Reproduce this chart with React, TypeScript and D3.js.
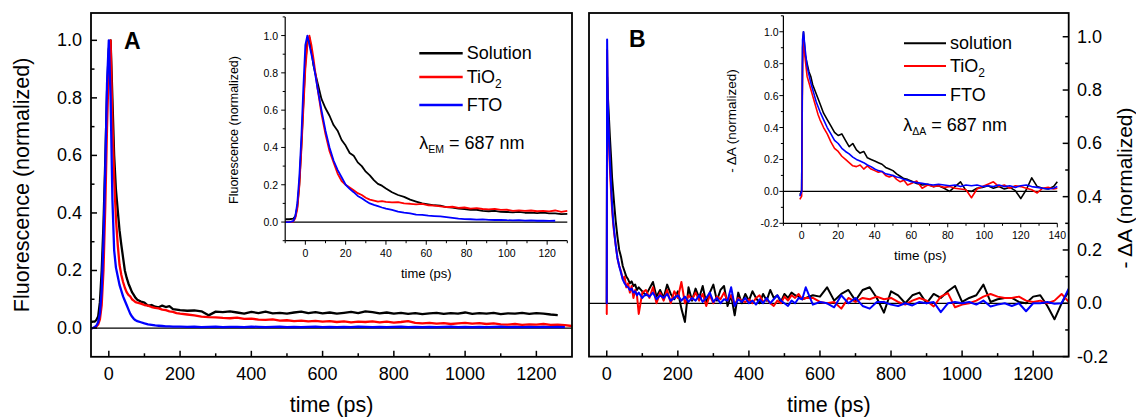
import React from "react";
import * as d3 from "d3";

// ---------------- Panel A (main): fluorescence decays ----------------
const timeA: number[] = [
  -50, -45, -40, -35, -30, -25, -20, -15, -10, -5, 0, 5, 10, 15, 20, 25, 30, 35, 40, 45,
  50, 55, 60, 65, 70, 75, 80, 90, 100, 110, 120, 130, 140, 150, 160, 170, 180, 190,
  200, 220, 240, 260, 280, 300, 320, 340, 360, 380, 400, 420, 440, 460, 480, 500, 520,
  540, 560, 580, 600, 620, 640, 660, 680, 700, 720, 740, 760, 780, 800, 820, 840, 860,
  880, 900, 920, 940, 960, 980, 1000, 1020, 1040, 1060, 1080, 1100, 1120, 1140, 1160,
  1180, 1200, 1220, 1240, 1260, 1280, 1300,
];
const fluoSolution: (number | null)[] = [
  0.02, 0.022, 0.022, 0.028, 0.04, 0.09, 0.2, 0.36, 0.58, 0.82, 0.97, 1.0, 0.8, 0.6, 0.48, 0.41,
  0.34, 0.29, 0.245, 0.2, 0.175, 0.155, 0.14, 0.125, 0.115, 0.105, 0.098, 0.092, 0.088, 0.078,
  0.08, 0.074, 0.072, 0.078, 0.073, 0.076, 0.066, 0.064,
  0.062, 0.06, 0.061, 0.058, 0.044, 0.057, 0.055, 0.058, 0.054, 0.05, 0.056, 0.052, 0.057,
  0.051, 0.053, 0.05, 0.054, 0.057, 0.052, 0.055, 0.051, 0.054, 0.05, 0.053, 0.056, 0.052,
  0.058, 0.055, 0.051, 0.054, 0.05, 0.053, 0.049, 0.052, 0.048, 0.051, 0.053, 0.049, 0.052,
  0.05, 0.054, 0.049, 0.052, 0.05, 0.053, 0.048, 0.051, 0.05, 0.053, 0.049, 0.052, 0.05,
  0.047, 0.045, null, null,
];
const fluoTiO2: (number | null)[] = [
  0, 0, 0.002, 0.005, 0.012, 0.03, 0.08, 0.2, 0.42, 0.7, 0.92, 1.0, 0.72, 0.52, 0.38, 0.29,
  0.22, 0.185, 0.16, 0.14, 0.125, 0.115, 0.11, 0.1, 0.095, 0.09, 0.088, 0.085, 0.08, 0.078,
  0.073, 0.07, 0.068, 0.064, 0.062, 0.058, 0.056, 0.052,
  0.05, 0.047, 0.044, 0.04, 0.038, 0.037, 0.035, 0.034, 0.036, 0.032, 0.033, 0.029, 0.028,
  0.03, 0.026, 0.027, 0.024, 0.026, 0.023, 0.025, 0.022, 0.024, 0.021, 0.023, 0.02, 0.022,
  0.021, 0.023, 0.02, 0.022, 0.019, 0.021, 0.024, 0.018, 0.016, 0.018, 0.015, 0.017, 0.014,
  0.016, 0.018, 0.015, 0.017, 0.014, 0.016, 0.013, 0.012, 0.014, 0.011, 0.013, 0.012, 0.014,
  0.011, 0.012, 0.01, 0.007,
];
const fluoFTO: (number | null)[] = [
  0, 0, 0.003, 0.008, 0.02, 0.05, 0.13, 0.3, 0.55, 0.85, 1.0, 0.8, 0.45, 0.27, 0.21, 0.18,
  0.15, 0.13, 0.11, 0.095, 0.08, 0.065, 0.05, 0.04, 0.032, 0.027, 0.024, 0.02, 0.016, 0.013,
  0.011, 0.009, 0.008, 0.007, 0.006, 0.006, 0.005, 0.005,
  0.005, 0.004, 0.005, 0.003, 0.004, 0.005, 0.003, 0.004, 0.004, 0.003,
  0.005, 0.004, 0.003, 0.004, 0.005, 0.003, 0.004, 0.003, 0.004, 0.005,
  0.003, 0.004, 0.003, 0.004, 0.003, 0.005, 0.004, 0.003, 0.004, 0.003,
  0.004, 0.005, 0.003, 0.004, 0.003, 0.004, 0.003, 0.004, 0.005, 0.003,
  0.004, 0.003, 0.004, 0.003, 0.004, 0.005, 0.003, 0.004, 0.003, 0.004,
  0.003, 0.004, 0.003, 0.004, 0.003, null,
];

// ---------------- Panel A (inset): first 130 ps ----------------
const timeInsetA: number[] = [
  -10, -8, -6, -5, -4, -3, -2, -1, 0, 1, 2, 3, 4, 6, 8, 10, 12, 14, 16, 18, 20, 22, 24, 26,
  28, 30, 32, 34, 36, 38, 40, 43, 46, 49, 52, 55, 58, 61, 64, 67, 70, 73, 76, 79, 82, 85,
  88, 91, 94, 97, 100, 103, 106, 109, 112, 115, 118, 121, 124, 127, 130,
];
const insetSolution: (number | null)[] = [
  0.015, 0.015, 0.018, 0.03, 0.08, 0.2, 0.4, 0.63, 0.85, 0.97, 0.99, 0.92, 0.84,
  0.75, 0.66, 0.61, 0.57, 0.52, 0.49, 0.44, 0.41, 0.37, 0.355, 0.32, 0.3, 0.27, 0.25, 0.225,
  0.205, 0.195, 0.18,
  0.16, 0.145, 0.135, 0.12, 0.11, 0.1, 0.095, 0.09, 0.088, 0.08, 0.077, 0.072, 0.07, 0.065,
  0.066, 0.06, 0.058, 0.06, 0.055, 0.054, 0.052, 0.055, 0.05, 0.05, 0.048, 0.05, 0.046,
  0.047, 0.043, 0.044,
];
const insetTiO2: (number | null)[] = [
  0, 0, 0.003, 0.02, 0.07, 0.19, 0.38, 0.6, 0.82, 0.95, 1.0, 0.95, 0.88,
  0.72, 0.58, 0.47, 0.38, 0.32, 0.26, 0.22, 0.2, 0.185, 0.17, 0.155, 0.145, 0.13, 0.12, 0.115,
  0.11, 0.112, 0.108,
  0.105, 0.107, 0.1, 0.098, 0.095, 0.097, 0.09, 0.088, 0.084, 0.08, 0.082, 0.076, 0.078,
  0.072, 0.075, 0.07, 0.068, 0.071, 0.065, 0.066, 0.06, 0.063, 0.06, 0.062, 0.058, 0.06,
  0.057, 0.062, 0.055, 0.06,
];
const insetFTO: (number | null)[] = [
  0, 0, 0.005, 0.03, 0.1, 0.24, 0.45, 0.72, 0.95, 1.0, 0.95, 0.9, 0.85,
  0.72, 0.6, 0.49, 0.4, 0.33, 0.28, 0.24, 0.2, 0.178, 0.16, 0.14, 0.128, 0.113, 0.1, 0.092,
  0.085, 0.078, 0.072,
  0.065, 0.056, 0.05, 0.046, 0.04, 0.038, 0.034, 0.032, 0.03, 0.026, 0.022, 0.018, 0.016,
  0.015, 0.013, 0.014, 0.012, 0.011, 0.012, 0.01, 0.009, 0.01, 0.008, 0.009, 0.007, 0.008,
  0.006, 0.007, null, null,
];

// ---------------- Panel B (main): transient absorption ----------------
const timeB: number[] = [
  -2, 0, 1, 3, 6, 9, 12, 15, 18, 21, 25, 30, 35, 40, 45, 50, 55, 60, 65, 70, 75, 80, 85, 90,
  100, 110, 120, 130, 140, 150, 160, 170, 180, 190, 200, 210, 220, 230, 240, 250, 260, 270,
  280, 290, 300, 310, 320, 330, 340, 350, 360, 370, 380, 390, 400, 410, 420, 430, 440, 450,
  460, 470, 480, 490, 500, 510, 520, 530, 540, 550, 560,
  580, 600, 620, 640, 660, 680, 700, 720, 740, 760, 780, 800, 820, 840, 860, 880, 900, 920,
  940, 960, 980, 1000, 1020, 1040, 1060, 1080, 1100, 1120, 1140, 1160, 1180, 1200, 1220,
  1240, 1260, 1280, 1300,
];
const taSolution: number[] = [
  0, 0, 0.85, 0.78, 0.7, 0.62, 0.55, 0.47, 0.42, 0.37, 0.31, 0.25, 0.2, 0.175, 0.14, 0.12,
  0.1, 0.09, 0.075, 0.082, 0.065, 0.07, 0.05, 0.06,
  0.045, 0.03, 0.055, 0.08, 0.025, 0.05, 0.02, 0.07, 0.035, 0.015, 0.045, -0.02, -0.07, 0.06,
  0.01, 0.055, 0.02, 0.065, 0, 0.04, 0.07, 0.01, 0.05, 0.065, -0.01, 0.03, -0.045, 0.04, 0,
  0.035, 0.01, 0.045, 0.02, 0, 0.035, 0.01, 0.05, 0.02, 0.03, 0.005, 0.035, 0.02, 0.04, 0.03,
  0.025, 0.015, 0.02,
  0.03, 0.025, 0.06, 0.01, 0.035, 0.05, 0.01, 0.05, 0.06, 0.02, -0.035, 0.045, 0.03, 0, 0.03,
  0.04, 0, 0.035, 0.02, 0.045, 0.065, 0.005, 0.02, 0.03, 0.07, 0.005, 0.015, 0.02, 0.02,
  0.005, 0, 0.025, 0.03, -0.01, -0.06, 0, 0.045,
];
const taTiO2: number[] = [
  -0.04, -0.04, 0.95, 0.7, 0.6, 0.5, 0.42, 0.35, 0.3, 0.26, 0.22, 0.17, 0.14, 0.12, 0.09, 0.1,
  0.06, 0.075, 0.04, 0.065, 0.02, 0.05, 0.03, -0.04,
  0.04, 0.05, 0.02, 0.06, 0, 0.04, 0.01, 0.05, 0, 0.045, 0.02, 0.08, 0, 0.03, 0.015, 0.04,
  0.01, 0.035, -0.01, 0.03, 0, 0.025, 0.015, 0.04, 0.01, 0.03, -0.005, 0.02, 0.01, 0.005,
  0.015, 0, 0.02, 0.03, 0.005, 0.015, 0, -0.01, 0.01, 0, 0.025, 0.01, 0.03, 0.02, 0.035,
  0.015, 0.02,
  0.02, 0.005, 0, 0.005, -0.02, 0.02, 0.005, 0.02, 0.015, 0.025, 0.015, 0.02, 0.005, -0.005,
  0.01, 0.02, 0.01, -0.012, 0.025, 0.038, -0.015, -0.005, 0, 0.01, 0.025, 0.035, 0.025, 0.02,
  0.02, 0.025, 0.01, 0.005, 0.01, 0, 0.01, 0.035, 0.005,
];
const taFTO: number[] = [
  0, 0, 0.99, 0.75, 0.63, 0.53, 0.45, 0.37, 0.31, 0.27, 0.22, 0.17, 0.14, 0.115, 0.09, 0.075,
  0.065, 0.06, 0.05, 0.055, 0.04, 0.045, 0.03, 0.04,
  0.02, 0.035, 0.025, 0.04, 0.015, 0.03, 0.02, 0.035, 0.01, 0.02, 0.03, 0.01, 0.025, 0.005,
  0.02, 0.01, 0.03, 0.005, 0.02, 0.04, 0.005, 0.02, 0, 0.015, 0.01, 0.06, -0.01, 0.015, 0.005,
  0.02, 0, 0.01, -0.005, 0.015, 0, 0.02, 0, 0.015, 0.03, 0.01, 0, -0.01, 0.01, 0, 0.02, 0.015,
  0.06,
  -0.005, 0.005, 0, -0.015, 0.03, 0, 0.02, -0.01, -0.02, 0.005, 0.005, -0.005, -0.01, 0,
  -0.008, 0.005, 0, 0.005, -0.033, 0, 0.005, 0, 0.005, -0.005, 0.01, -0.012, -0.005, 0, -0.01,
  0, -0.03, 0, 0, 0.005, -0.002, 0, 0.055,
];

// ---------------- Panel B (inset): first 140 ps ----------------
const timeInsetB: number[] = [
  -1, 0, 0.5, 1, 2, 3, 4, 5, 6, 7, 8, 9, 10, 12, 14, 16, 18, 20, 22, 24, 26, 28, 30, 32, 34,
  36, 38, 40, 42, 44, 46, 48, 50, 52, 54, 56, 58, 60, 63, 66, 69, 72, 75, 78, 81, 84, 87, 90,
  93, 96, 99, 102, 105, 108, 111, 114, 117, 120, 123, 126, 129, 132, 135, 138, 140,
];
const insetTaSolution: number[] = [
  -0.02, 0, 0.9, 1.0, 0.85, 0.8, 0.75, 0.72, 0.67, 0.64, 0.61, 0.58, 0.55,
  0.49, 0.45, 0.41, 0.37, 0.35, 0.36, 0.32, 0.28, 0.3, 0.26, 0.24, 0.25, 0.21, 0.2, 0.19, 0.18,
  0.17, 0.15, 0.14, 0.13, 0.11, 0.095, 0.08, 0.075, 0.065,
  0.05, 0.04, 0.045, 0.03, 0.035, 0.02, 0, 0.03, 0.06, 0.005, 0, 0.02, 0.025, 0.035, 0.02,
  0.03, 0.015, 0.025, 0.005, -0.045, 0.01, 0.085, 0.03, 0.02, 0.015, 0.03,
  0.06,
];
const insetTaTiO2: number[] = [
  -0.05, -0.03, 0.8, 0.95, 0.82, 0.72, 0.68, 0.64, 0.6, 0.56, 0.52, 0.48, 0.45,
  0.4, 0.36, 0.31, 0.27, 0.25, 0.22, 0.2, 0.18, 0.16, 0.155, 0.165, 0.14, 0.16, 0.14, 0.13,
  0.12, 0.125, 0.1, 0.09, 0.1, 0.075, 0.06, 0.07, 0.04, 0.05,
  0.065, 0.02, 0.04, 0.03, 0.035, 0.025, 0.03, 0.02, 0.015, 0.01, -0.04, 0.015, 0.03, 0.045,
  0.06, 0.03, 0.04, 0.02, 0.035, 0.03, 0.02, 0.01, -0.01, 0.02, 0.025, 0.015,
  0.02,
];
const insetTaFTO: number[] = [
  -0.03, 0, 0.95, 1.0, 0.88, 0.78, 0.73, 0.68, 0.64, 0.6, 0.56, 0.53, 0.5,
  0.45, 0.4, 0.36, 0.32, 0.3, 0.27, 0.25, 0.235, 0.215, 0.2, 0.19, 0.18, 0.165, 0.155, 0.14,
  0.13, 0.125, 0.11, 0.105, 0.1, 0.09, 0.085, 0.075, 0.07, 0.06,
  0.055, 0.05, 0.045, 0.04, 0.045, 0.04, 0.035, 0.04, 0.03, 0.04, 0.035, 0.04, 0.03, 0.035,
  0.03, 0.04, 0.03, 0.035, 0.025, 0.035, 0.04, 0.03, 0.025, 0.02, 0.015, 0.02,
  0.03,
];

// ---------------- Ticks ----------------
const mainXMajor = [0, 200, 400, 600, 800, 1000, 1200];
const mainXMinor = [100, 300, 500, 700, 900, 1100];
const aYMajor = [0, 0.2, 0.4, 0.6, 0.8, 1.0];
const aYMinor = [0.1, 0.3, 0.5, 0.7, 0.9];
const bYMajor = [-0.2, 0, 0.2, 0.4, 0.6, 0.8, 1.0];
const bYMinor = [-0.1, 0.1, 0.3, 0.5, 0.7, 0.9];
const insetAXMajor = [0, 20, 40, 60, 80, 100, 120];
const insetAXMinor = [-10, 10, 30, 50, 70, 90, 110, 130];
const insetAYMajor = [0, 0.2, 0.4, 0.6, 0.8, 1.0];
const insetAYMinor = [-0.1, 0.1, 0.3, 0.5, 0.7, 0.9, 1.1];
const insetBXMajor = [0, 20, 40, 60, 80, 100, 120, 140];
const insetBXMinor = [-10, 10, 30, 50, 70, 90, 110, 130];
const insetBYMajor = [-0.2, 0, 0.2, 0.4, 0.6, 0.8, 1.0];
const insetBYMinor = [-0.1, 0.1, 0.3, 0.5, 0.7, 0.9, 1.1];

const FONT = "'Liberation Sans', Arial, Helvetica, sans-serif";
const BLACK = "#000000";
const RED = "#ff0000";
const BLUE = "#0000ff";

type Scale = d3.ScaleLinear<number, number>;

function pathFor(xs: number[], ys: (number | null)[], x: Scale, y: Scale): string {
  const idx = d3.range(xs.length);
  return (
    d3
      .line<number>()
      .defined((i) => ys[i] !== null && ys[i] !== undefined)
      .x((i) => x(xs[i]))
      .y((i) => y(ys[i] as number))(idx) || ""
  );
}

const fmt1 = (v: number) => v.toFixed(1);

export default function App() {
  const xA = d3.scaleLinear().domain([-50, 1300]).range([91, 572]);
  const yA = d3.scaleLinear().domain([-0.1, 1.095]).range([356.8, 13]);
  const xB = d3.scaleLinear().domain([-50, 1300]).range([589, 1068.7]);
  const yB = d3.scaleLinear().domain([-0.2, 1.089]).range([356.6, 13]);
  const xIA = d3.scaleLinear().domain([-10, 130]).range([285.2, 567.3]);
  const yIA = d3.scaleLinear().domain([-0.1, 1.1]).range([240.7, 16.9]);
  const xIB = d3.scaleLinear().domain([-10, 140]).range([783.4, 1057.3]);
  const yIB = d3.scaleLinear().domain([-0.2, 1.1]).range([223.3, 15.8]);

  const [ax0, ax1] = xA.range();
  const [ay1, ay0] = yA.range();
  const [bx0, bx1] = xB.range();
  const [by1, by0] = yB.range();
  const [iax0, iax1] = xIA.range();
  const [iay1, iay0] = yIA.range();
  const [ibx0, ibx1] = xIB.range();
  const [iby1, iby0] = yIB.range();

  const frameW = 1.8;
  const tickCol = BLACK;

  return (
    <svg
      width={1136}
      height={418}
      viewBox="0 0 1136 418"
      style={{ position: "absolute", left: 0, top: 0, background: "#ffffff" }}
      fontFamily={FONT}
    >
      <defs>
        <clipPath id="clipA">
          <rect x={ax0} y={ay0} width={ax1 - ax0} height={ay1 - ay0} />
        </clipPath>
        <clipPath id="clipB">
          <rect x={bx0} y={by0} width={bx1 - bx0} height={by1 - by0} />
        </clipPath>
        <clipPath id="clipIA">
          <rect x={iax0} y={iay0} width={iax1 - iax0 + 1} height={iay1 - iay0} />
        </clipPath>
        <clipPath id="clipIB">
          <rect x={ibx0} y={iby0} width={ibx1 - ibx0 + 1} height={iby1 - iby0} />
        </clipPath>
      </defs>
      <rect x={0} y={0} width={1136} height={418} fill="#ffffff" />

      {/* ================= PANEL A ================= */}
      <line x1={ax0} x2={ax1} y1={yA(0)} y2={yA(0)} stroke={BLACK} strokeWidth={1.3} />
      <g clipPath="url(#clipA)" fill="none" strokeLinejoin="round">
        <path d={pathFor(timeA, fluoSolution, xA, yA)} stroke={BLACK} strokeWidth={2.3} />
        <path d={pathFor(timeA, fluoTiO2, xA, yA)} stroke={RED} strokeWidth={2.3} />
        <path d={pathFor(timeA, fluoFTO, xA, yA)} stroke={BLUE} strokeWidth={2.3} />
      </g>
      <rect x={ax0} y={ay0} width={ax1 - ax0} height={ay1 - ay0} fill="none" stroke={BLACK} strokeWidth={frameW} />
      {aYMajor.map((v) => (
        <g key={"aym" + v}>
          <line x1={ax0} x2={ax0 + 6} y1={yA(v)} y2={yA(v)} stroke={tickCol} strokeWidth={1.5} />
          <text x={82} y={yA(v)} fontSize={18} textAnchor="end" dominantBaseline="central">
            {fmt1(v)}
          </text>
        </g>
      ))}
      {aYMinor.map((v) => (
        <line key={"ayn" + v} x1={ax0} x2={ax0 + 3.5} y1={yA(v)} y2={yA(v)} stroke={tickCol} strokeWidth={1.5} />
      ))}
      {mainXMajor.map((v) => (
        <g key={"axm" + v}>
          <line x1={xA(v)} x2={xA(v)} y1={ay1} y2={ay1 - 6} stroke={tickCol} strokeWidth={1.5} />
          <text x={xA(v)} y={374} fontSize={18} textAnchor="middle" dominantBaseline="central">
            {v}
          </text>
        </g>
      ))}
      {mainXMinor.map((v) => (
        <line key={"axn" + v} x1={xA(v)} x2={xA(v)} y1={ay1} y2={ay1 - 3.5} stroke={tickCol} strokeWidth={1.5} />
      ))}
      <text
        transform={`translate(21.5,${(ay0 + ay1) / 2}) rotate(-90)`}
        fontSize={21.5}
        textAnchor="middle"
        dominantBaseline="central"
      >
        Fluorescence (normalized)
      </text>
      <text x={(ax0 + ax1) / 2} y={405} fontSize={21.5} textAnchor="middle" dominantBaseline="central">
        time (ps)
      </text>
      <text x={124} y={48.5} fontSize={23} fontWeight="bold">
        A
      </text>

      {/* ---- Inset A ---- */}
      <line x1={iax0} x2={iax1} y1={yIA(0)} y2={yIA(0)} stroke={BLACK} strokeWidth={1.2} />
      <g clipPath="url(#clipIA)" fill="none" strokeLinejoin="round">
        <path d={pathFor(timeInsetA, insetSolution, xIA, yIA)} stroke={BLACK} strokeWidth={1.8} />
        <path d={pathFor(timeInsetA, insetTiO2, xIA, yIA)} stroke={RED} strokeWidth={1.8} />
        <path d={pathFor(timeInsetA, insetFTO, xIA, yIA)} stroke={BLUE} strokeWidth={1.8} />
      </g>
      <line x1={iax0} x2={iax0} y1={iay0} y2={iay1} stroke={BLACK} strokeWidth={1.2} />
      <line x1={iax0} x2={iax1} y1={iay1} y2={iay1} stroke={BLACK} strokeWidth={1.2} />
      {insetAYMajor.map((v) => (
        <g key={"iaym" + v}>
          <line x1={iax0 - 4} x2={iax0} y1={yIA(v)} y2={yIA(v)} stroke={tickCol} strokeWidth={1} />
          <text x={278} y={yIA(v)} fontSize={10.5} textAnchor="end" dominantBaseline="central">
            {fmt1(v)}
          </text>
        </g>
      ))}
      {insetAYMinor.map((v) => (
        <line key={"iayn" + v} x1={iax0 - 2.5} x2={iax0} y1={yIA(v)} y2={yIA(v)} stroke={tickCol} strokeWidth={1} />
      ))}
      {insetAXMajor.map((v) => (
        <g key={"iaxm" + v}>
          <line x1={xIA(v)} x2={xIA(v)} y1={iay1} y2={iay1 + 4} stroke={tickCol} strokeWidth={1} />
          <text x={xIA(v)} y={252.7} fontSize={10.5} textAnchor="middle" dominantBaseline="central">
            {v}
          </text>
        </g>
      ))}
      {insetAXMinor.map((v) => (
        <line key={"iaxn" + v} x1={xIA(v)} x2={xIA(v)} y1={iay1} y2={iay1 + 2.5} stroke={tickCol} strokeWidth={1} />
      ))}
      <text
        transform={`translate(233.5,130) rotate(-90)`}
        fontSize={12.5}
        textAnchor="middle"
        dominantBaseline="central"
      >
        Fluorescence (normalized)
      </text>
      <text x={(iax0 + iax1) / 2} y={273} fontSize={13} textAnchor="middle" dominantBaseline="central">
        time (ps)
      </text>

      {/* Legend A */}
      <line x1={419.3} x2={462.7} y1={53.3} y2={53.3} stroke={BLACK} strokeWidth={2.6} />
      <line x1={419.3} x2={462.7} y1={77} y2={77} stroke={RED} strokeWidth={2.6} />
      <line x1={419.3} x2={462.7} y1={105} y2={105} stroke={BLUE} strokeWidth={2.6} />
      <text x={466.7} y={53.3} fontSize={18} dominantBaseline="central">
        Solution
      </text>
      <text x={466.7} y={77} fontSize={18} dominantBaseline="central">
        TiO
        <tspan fontSize={12} dy={7}>
          2
        </tspan>
      </text>
      <text x={466.7} y={105} fontSize={18} dominantBaseline="central">
        FTO
      </text>
      <text x={419.3} y={143.3} fontSize={18} dominantBaseline="central">
        λ
        <tspan fontSize={10.5} dy={6}>
          EM
        </tspan>
        <tspan dy={-6}> = 687 nm</tspan>
      </text>

      {/* ================= PANEL B ================= */}
      <line x1={bx0} x2={bx1} y1={yB(0)} y2={yB(0)} stroke={BLACK} strokeWidth={1.3} />
      <g clipPath="url(#clipB)" fill="none" strokeLinejoin="round">
        <path d={pathFor(timeB, taSolution, xB, yB)} stroke={BLACK} strokeWidth={2} />
        <path d={pathFor(timeB, taTiO2, xB, yB)} stroke={RED} strokeWidth={2} />
        <path d={pathFor(timeB, taFTO, xB, yB)} stroke={BLUE} strokeWidth={2} />
      </g>
      <rect x={bx0} y={by0} width={bx1 - bx0} height={by1 - by0} fill="none" stroke={BLACK} strokeWidth={frameW} />
      {bYMajor.map((v) => (
        <g key={"bym" + v}>
          <line x1={bx1} x2={bx1 - 6} y1={yB(v)} y2={yB(v)} stroke={tickCol} strokeWidth={1.5} />
          <text x={1077} y={yB(v)} fontSize={18} textAnchor="start" dominantBaseline="central">
            {fmt1(v)}
          </text>
        </g>
      ))}
      {bYMinor.map((v) => (
        <line key={"byn" + v} x1={bx1} x2={bx1 - 3.5} y1={yB(v)} y2={yB(v)} stroke={tickCol} strokeWidth={1.5} />
      ))}
      {mainXMajor.map((v) => (
        <g key={"bxm" + v}>
          <line x1={xB(v)} x2={xB(v)} y1={by1} y2={by1 - 6} stroke={tickCol} strokeWidth={1.5} />
          <text x={xB(v)} y={374} fontSize={18} textAnchor="middle" dominantBaseline="central">
            {v}
          </text>
        </g>
      ))}
      {mainXMinor.map((v) => (
        <line key={"bxn" + v} x1={xB(v)} x2={xB(v)} y1={by1} y2={by1 - 3.5} stroke={tickCol} strokeWidth={1.5} />
      ))}
      <text
        transform={`translate(1124,188) rotate(-90)`}
        fontSize={21}
        textAnchor="middle"
        dominantBaseline="central"
      >
        - ΔA (normalized)
      </text>
      <text x={(bx0 + bx1) / 2} y={405} fontSize={21.5} textAnchor="middle" dominantBaseline="central">
        time (ps)
      </text>
      <text x={629} y={47} fontSize={23} fontWeight="bold">
        B
      </text>

      {/* ---- Inset B ---- */}
      <line x1={ibx0} x2={ibx1} y1={yIB(0)} y2={yIB(0)} stroke={BLACK} strokeWidth={1.2} />
      <g clipPath="url(#clipIB)" fill="none" strokeLinejoin="round">
        <path d={pathFor(timeInsetB, insetTaSolution, xIB, yIB)} stroke={BLACK} strokeWidth={1.6} />
        <path d={pathFor(timeInsetB, insetTaTiO2, xIB, yIB)} stroke={RED} strokeWidth={1.6} />
        <path d={pathFor(timeInsetB, insetTaFTO, xIB, yIB)} stroke={BLUE} strokeWidth={1.6} />
      </g>
      <line x1={ibx0} x2={ibx0} y1={iby0} y2={iby1} stroke={BLACK} strokeWidth={1.2} />
      <line x1={ibx0} x2={ibx1} y1={iby1} y2={iby1} stroke={BLACK} strokeWidth={1.2} />
      {insetBYMajor.map((v) => (
        <g key={"ibym" + v}>
          <line x1={ibx0 - 4} x2={ibx0} y1={yIB(v)} y2={yIB(v)} stroke={tickCol} strokeWidth={1} />
          <text x={778.5} y={yIB(v)} fontSize={10.5} textAnchor="end" dominantBaseline="central">
            {fmt1(v)}
          </text>
        </g>
      ))}
      {insetBYMinor.map((v) => (
        <line key={"ibyn" + v} x1={ibx0 - 2.5} x2={ibx0} y1={yIB(v)} y2={yIB(v)} stroke={tickCol} strokeWidth={1} />
      ))}
      {insetBXMajor.map((v) => (
        <g key={"ibxm" + v}>
          <line x1={xIB(v)} x2={xIB(v)} y1={iby1} y2={iby1 + 4} stroke={tickCol} strokeWidth={1} />
          <text x={xIB(v)} y={235} fontSize={10.5} textAnchor="middle" dominantBaseline="central">
            {v}
          </text>
        </g>
      ))}
      {insetBXMinor.map((v) => (
        <line key={"ibxn" + v} x1={xIB(v)} x2={xIB(v)} y1={iby1} y2={iby1 + 2.5} stroke={tickCol} strokeWidth={1} />
      ))}
      <text
        transform={`translate(731.7,121) rotate(-90)`}
        fontSize={13.5}
        textAnchor="middle"
        dominantBaseline="central"
      >
        - ΔA (normalized)
      </text>
      <text x={(ibx0 + ibx1) / 2} y={255} fontSize={13.5} textAnchor="middle" dominantBaseline="central">
        time (ps)
      </text>

      {/* Legend B */}
      <line x1={904} x2={946} y1={43.3} y2={43.3} stroke={BLACK} strokeWidth={2} />
      <line x1={904} x2={946} y1={66} y2={66} stroke={RED} strokeWidth={2} />
      <line x1={904} x2={946} y1={95} y2={95} stroke={BLUE} strokeWidth={2} />
      <text x={950} y={43.3} fontSize={18} dominantBaseline="central">
        solution
      </text>
      <text x={950} y={66} fontSize={18} dominantBaseline="central">
        TiO
        <tspan fontSize={12} dy={7}>
          2
        </tspan>
      </text>
      <text x={950} y={95} fontSize={18} dominantBaseline="central">
        FTO
      </text>
      <text x={903.3} y={125} fontSize={18} dominantBaseline="central">
        λ
        <tspan fontSize={10.5} dy={6}>
          ΔA
        </tspan>
        <tspan dy={-6}> = 687 nm</tspan>
      </text>
    </svg>
  );
}
